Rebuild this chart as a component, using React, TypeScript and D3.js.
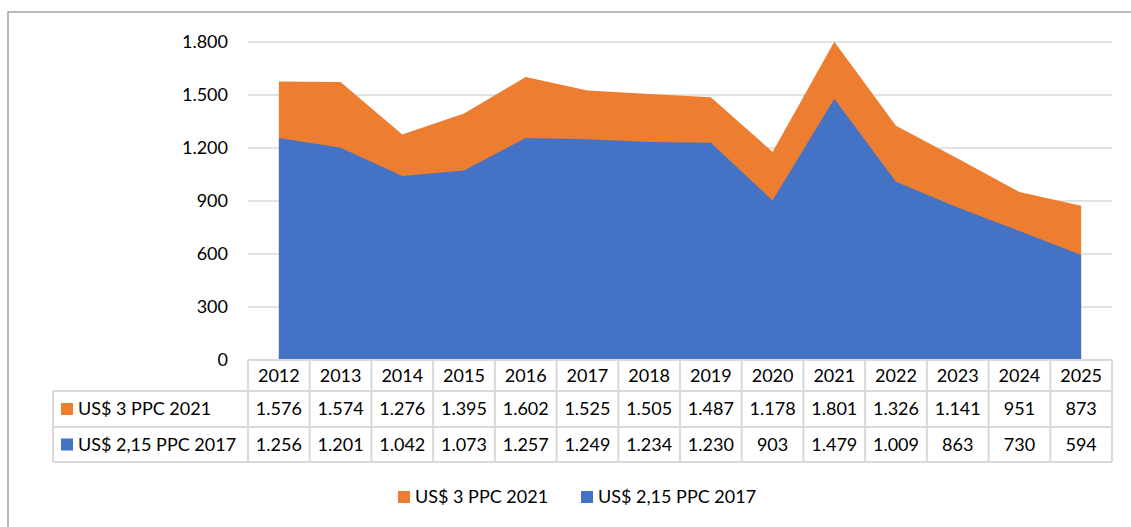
import React, { useEffect, useRef } from 'react';
import * as d3 from 'd3';

const years = ['2012', '2013', '2014', '2015', '2016', '2017', '2018', '2019', '2020', '2021', '2022', '2023', '2024', '2025'];
const us3Ppc2021 = [1576, 1574, 1276, 1395, 1602, 1525, 1505, 1487, 1178, 1801, 1326, 1141, 951, 873];
const us215Ppc2017 = [1256, 1201, 1042, 1073, 1257, 1249, 1234, 1230, 903, 1479, 1009, 863, 730, 594];
const yTicks = [0, 300, 600, 900, 1200, 1500, 1800];

const series = [
    { name: 'US$ 3 PPC 2021', values: us3Ppc2021, color: '#ED7D31' },
    { name: 'US$ 2,15 PPC 2017', values: us215Ppc2017, color: '#4472C4' }
];

const W = 1131;
const H = 527;
const FONT = 'Lato, "Open Sans", sans-serif';

const locale = d3.formatLocale({ decimal: ',', thousands: '.', grouping: [3], currency: ['', ''] });
const fmt = locale.format(',d');

export default function App() {
    const ref = useRef<SVGSVGElement>(null);

    useEffect(() => {
        if (!ref.current) return;
        const svg = d3.select(ref.current);
        svg.selectAll('*').remove();

        const x = d3.scaleBand<string>().domain(years).range([248, 1112]);
        const y = d3.scaleLinear().domain([0, 1800]).range([360, 42]);

        // outer chart frame (cropped at right/bottom)
        svg.append('rect')
            .attr('x', 8).attr('y', 12)
            .attr('width', W).attr('height', H)
            .attr('fill', 'white')
            .attr('stroke', '#8c8c8c')
            .attr('stroke-width', 1.2);

        // gridlines
        svg.append('g').selectAll('line')
            .data(yTicks)
            .join('line')
            .attr('x1', 248).attr('x2', 1112)
            .attr('y1', d => y(d)).attr('y2', d => y(d))
            .attr('stroke', '#d9d9d9')
            .attr('stroke-width', 1.5);

        // y labels
        svg.append('g').selectAll('text')
            .data(yTicks)
            .join('text')
            .attr('x', 228)
            .attr('y', d => y(d))
            .attr('dy', '0.36em')
            .attr('text-anchor', 'end')
            .attr('font-family', FONT)
            .attr('font-size', 18)
            .attr('fill', '#000')
            .text(d => fmt(d));

        // areas (overlapping, drawn orange first)
        const area = d3.area<number>()
            .x((_, i) => (x(years[i]) as number) + x.bandwidth() / 2)
            .y0(y(0))
            .y1(d => y(d));

        series.forEach(s => {
            svg.append('path')
                .datum(s.values)
                .attr('d', area)
                .attr('fill', s.color);
        });

        // data table
        const rowTops = [360, 391, 427, 462];
        const labelLeft = 53;
        const grid = svg.append('g')
            .attr('stroke', '#d9d9d9')
            .attr('stroke-width', 2)
            .attr('fill', 'none');

        // horizontal lines
        rowTops.forEach((ry, i) => {
            grid.append('line')
                .attr('x1', i === 0 ? 248 : labelLeft)
                .attr('x2', 1112)
                .attr('y1', ry).attr('y2', ry);
        });
        // vertical lines
        const colEdges = years.map(yr => x(yr) as number).concat([1112]);
        colEdges.forEach(cx => {
            grid.append('line')
                .attr('x1', cx).attr('x2', cx)
                .attr('y1', rowTops[0]).attr('y2', rowTops[3]);
        });
        grid.append('line')
            .attr('x1', labelLeft).attr('x2', labelLeft)
            .attr('y1', rowTops[1]).attr('y2', rowTops[3]);

        const textG = svg.append('g')
            .attr('font-family', FONT)
            .attr('font-size', 18)
            .attr('fill', '#000');

        // header years
        textG.selectAll('text.yr')
            .data(years)
            .join('text')
            .attr('class', 'yr')
            .attr('x', d => (x(d) as number) + x.bandwidth() / 2)
            .attr('y', (rowTops[0] + rowTops[1]) / 2)
            .attr('dy', '0.36em')
            .attr('text-anchor', 'middle')
            .text(d => d);

        series.forEach((s, si) => {
            const cy = (rowTops[si + 1] + rowTops[si + 2]) / 2;
            textG.append('rect')
                .attr('x', 61).attr('y', cy - 6)
                .attr('width', 12).attr('height', 12)
                .attr('fill', s.color);
            textG.append('text')
                .attr('x', 78).attr('y', cy)
                .attr('dy', '0.36em')
                .text(s.name);
            s.values.forEach((v, i) => {
                textG.append('text')
                    .attr('x', (x(years[i]) as number) + x.bandwidth() / 2)
                    .attr('y', cy)
                    .attr('dy', '0.36em')
                    .attr('text-anchor', 'middle')
                    .text(fmt(v));
            });
        });

        // legend
        const legendX = [398, 581];
        const legend = svg.append('g')
            .attr('font-family', FONT)
            .attr('font-size', 18)
            .attr('fill', '#000');
        series.forEach((s, i) => {
            legend.append('rect')
                .attr('x', legendX[i]).attr('y', 491)
                .attr('width', 12).attr('height', 12)
                .attr('fill', s.color);
            legend.append('text')
                .attr('x', legendX[i] + 17).attr('y', 497)
                .attr('dy', '0.36em')
                .text(s.name);
        });
    }, []);

    return (
        <svg
            ref={ref}
            width={W}
            height={H}
            style={{ position: 'absolute', left: 0, top: 0, display: 'block', background: 'white' }}
        ></svg>
    );
}
